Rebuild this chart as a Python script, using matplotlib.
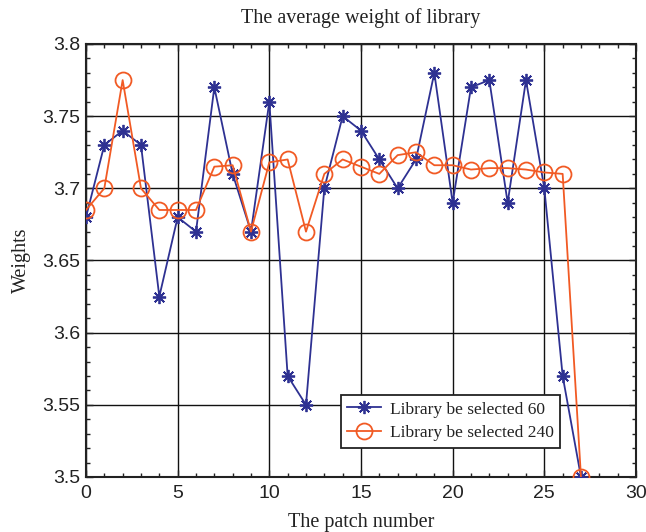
import matplotlib
matplotlib.use("Agg")
import matplotlib.pyplot as plt
from matplotlib.ticker import MultipleLocator

# Average library weight per patch
patch = list(range(28))
weights_60 = [3.68, 3.73, 3.74, 3.73, 3.625, 3.68, 3.67, 3.77, 3.71, 3.67,
              3.76, 3.57, 3.55, 3.70, 3.75, 3.74, 3.72, 3.70, 3.72, 3.78,
              3.69, 3.77, 3.775, 3.69, 3.775, 3.70, 3.57, 3.50]
weights_240 = [3.685, 3.70, 3.775, 3.70, 3.685, 3.685, 3.685, 3.715, 3.716, 3.67,
               3.718, 3.72, 3.67, 3.71, 3.72, 3.715, 3.71, 3.723, 3.725, 3.716,
               3.716, 3.713, 3.714, 3.714, 3.713, 3.711, 3.71, 3.50]

label_60 = "Library be selected 60"
label_240 = "Library be selected 240"
title = "The average weight of library"
xlabel = "The patch number"
ylabel = "Weights"
xticks = [0, 5, 10, 15, 20, 25, 30]
yticks = [3.5, 3.55, 3.6, 3.65, 3.7, 3.75, 3.8]
ytick_labels = ["3.5", "3.55", "3.6", "3.65", "3.7", "3.75", "3.8"]

blue = "#2E3192"
orange = "#F15A24"
ink = "#222222"
serif = ["Liberation Serif", "DejaVu Serif"]
sans = ["Liberation Sans", "DejaVu Sans"]

fig = plt.figure(figsize=(6.46, 5.32), dpi=100)
ax = fig.add_axes([0.1331, 0.1034, 0.8514, 0.8139])

ax.plot(patch, weights_60, color=blue, lw=1.3, marker=(8, 2, 0),
        ms=9.5, mew=1.3, label=label_60, zorder=3)
ax.plot(patch, weights_240, color=orange, lw=1.3, marker="o", ms=11.5,
        mfc="none", mec=orange, mew=1.3, label=label_240, zorder=3)

ax.set_xlim(0, 30)
ax.set_ylim(3.5, 3.8)
ax.set_xticks(xticks)
ax.set_yticks(yticks)
ax.set_yticklabels(ytick_labels)
ax.xaxis.set_minor_locator(MultipleLocator(1))
ax.yaxis.set_minor_locator(MultipleLocator(0.01))
ax.tick_params(which="both", direction="in", top=True, right=True,
               color=ink, width=1.0)
ax.tick_params(which="major", length=5, labelsize=14)
ax.tick_params(axis="x", which="major", pad=6)
ax.tick_params(axis="y", which="major", pad=4)
ax.tick_params(which="minor", length=3)
for lab in ax.get_xticklabels() + ax.get_yticklabels():
    lab.set_family(sans)
    lab.set_color(ink)

ax.grid(True, which="major", color="#111111", lw=1.0)
ax.set_axisbelow(True)
for s in ax.spines.values():
    s.set_color(ink)
    s.set_linewidth(1.5)

ax.set_title(title, family=serif, fontsize=14.5, color=ink, pad=15)
ax.set_xlabel(xlabel, family=serif, fontsize=14.5, color=ink, labelpad=8)
ax.set_ylabel(ylabel, family=serif, fontsize=14.5, color=ink, labelpad=8)

leg = ax.legend(loc="lower left", bbox_to_anchor=(0.4644, 0.068),
                prop={"family": serif, "size": 12.5}, frameon=True,
                fancybox=False, framealpha=1, edgecolor=ink,
                handlelength=1.95, borderpad=0.35, labelspacing=0.45,
                handletextpad=0.5, borderaxespad=0.0)
leg.get_frame().set_linewidth(1.3)
for t in leg.get_texts():
    t.set_color(ink)

fig.savefig("out.png", dpi=100)
